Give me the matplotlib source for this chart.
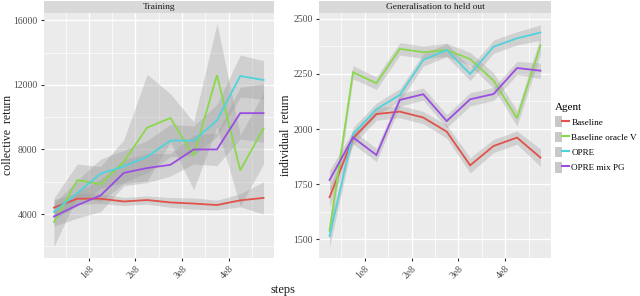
import matplotlib
matplotlib.use("Agg")
import matplotlib.pyplot as plt
from matplotlib.lines import Line2D
from matplotlib.patches import Patch
from matplotlib.legend_handler import HandlerTuple
import numpy as np

plt.rcParams['font.family'] = ['Liberation Serif', 'DejaVu Serif']

# ---------------- data ----------------
steps = [0.25e8, 0.75e8, 1.25e8, 1.75e8, 2.25e8, 2.75e8, 3.25e8, 3.75e8, 4.25e8, 4.75e8]
agents = ["Baseline", "Baseline oracle V", "OPRE", "OPRE mix PG"]

# Training: collective return (mean, half-width of ribbon)
train_baseline = [4400, 4950, 4950, 4780, 4870, 4720, 4650, 4560, 4850, 5000]
train_baseline_err = [500, 350, 300, 250, 250, 300, 350, 300, 400, 1000]
train_oracle = [3500, 6100, 5850, 7250, 9350, 9950, 7600, 12600, 6700, 9300]
train_oracle_err = [1500, 1000, 1100, 1350, 3300, 1500, 2100, 3200, 2200, 2200]
train_opre = [4150, 5300, 6500, 6950, 7550, 8550, 8550, 9800, 12550, 12300]
train_opre_err = [500, 800, 900, 1000, 1000, 1000, 900, 1000, 1300, 1200]
train_mix = [3850, 4550, 5150, 6550, 6850, 7050, 8000, 8000, 10250, 10250]
train_mix_err = [600, 800, 1000, 800, 900, 700, 900, 1000, 1600, 1800]

# Generalisation: individual return
gen_baseline = [1690, 1958, 2068, 2079, 2052, 1988, 1835, 1923, 1961, 1870]
gen_baseline_err = [45, 30, 28, 28, 28, 30, 35, 30, 30, 40]
gen_oracle = [1538, 2258, 2208, 2364, 2349, 2359, 2318, 2220, 2049, 2379]
gen_oracle_err = [45, 30, 28, 28, 28, 30, 30, 35, 35, 40]
gen_opre = [1514, 1977, 2090, 2155, 2314, 2359, 2250, 2374, 2412, 2438]
gen_opre_err = [50, 30, 28, 28, 28, 30, 30, 30, 30, 35]
gen_mix = [1768, 1962, 1882, 2132, 2158, 2036, 2135, 2159, 2277, 2265]
gen_mix_err = [45, 30, 30, 28, 28, 30, 30, 30, 30, 35]

colors = ["#E0524A", "#8AD84C", "#4FD3DC", "#9A4DE0"]

# ---------------- figure ----------------
W, H = 640, 296
fig = plt.figure(figsize=(W / 100, H / 100), dpi=100)
fig.patch.set_facecolor("white")


def px_axes(x0, y0, x1, y1):
    return fig.add_axes([x0 / W, 1 - y1 / H, (x1 - x0) / W, (y1 - y0) / H])


def style_panel(ax, yticks, yminor, ylim, title, strip_box):
    ax.set_facecolor("#EBEBEB")
    for s in ax.spines.values():
        s.set_visible(False)
    ax.set_xlim(0.025e8, 4.975e8)
    ax.set_ylim(*ylim)
    ax.set_xticks([1e8, 2e8, 3e8, 4e8])
    ax.set_xticklabels(["1e8", "2e8", "3e8", "4e8"], rotation=45, ha="right",
                       va="top", rotation_mode="anchor")
    ax.set_xticks([0.5e8, 1.5e8, 2.5e8, 3.5e8, 4.5e8], minor=True)
    ax.set_yticks(yticks)
    ax.set_yticklabels([str(t) for t in yticks])
    ax.set_yticks(yminor, minor=True)
    ax.grid(which="major", color="white", lw=1.0)
    ax.grid(which="minor", color="white", lw=0.5)
    ax.set_axisbelow(True)
    ax.tick_params(which="major", length=2.5, width=0.8, color="#333333",
                   labelsize=7, labelcolor="#4D4D4D", pad=2)
    ax.tick_params(which="minor", length=0)
    sax = px_axes(*strip_box)
    sax.set_facecolor("#D9D9D9")
    for s in sax.spines.values():
        s.set_visible(False)
    sax.set_xticks([])
    sax.set_yticks([])
    sax.text(0.5, 0.5, title, ha="center", va="center", fontsize=6.8,
             color="#1A1A1A", transform=sax.transAxes)


ax1 = px_axes(43.5, 13, 274, 258)
ax2 = px_axes(319, 13, 551, 258)

style_panel(ax1, [4000, 8000, 12000, 16000], [2000, 6000, 10000, 14000],
            (1280, 16450), "Training", (43.5, 0.5, 274, 13))
style_panel(ax2, [1500, 1750, 2000, 2250, 2500], [1625, 1875, 2125, 2375],
            (1414, 2527), "Generalisation to held out", (319, 0.5, 551, 13))

train = [(train_baseline, train_baseline_err), (train_oracle, train_oracle_err),
         (train_opre, train_opre_err), (train_mix, train_mix_err)]
gen = [(gen_baseline, gen_baseline_err), (gen_oracle, gen_oracle_err),
       (gen_opre, gen_opre_err), (gen_mix, gen_mix_err)]

for ax, series in ((ax1, train), (ax2, gen)):
    for (m, e), c in zip(series, colors):
        m = np.array(m, float)
        e = np.array(e, float)
        ax.fill_between(steps, m - e, m + e, color="#999999", alpha=0.33, lw=0, zorder=2)
    for (m, e), c in zip(series, colors):
        ax.plot(steps, m, color=c, lw=1.3, zorder=3, solid_joinstyle="miter")

fig.text(8 / W, 1 - 135 / H, "collective  return", rotation=90, ha="center",
         va="center", fontsize=8.5, color="#1A1A1A")
fig.text(286 / W, 1 - 135 / H, "individual  return", rotation=90, ha="center",
         va="center", fontsize=8.5, color="#1A1A1A")
fig.text(283 / W, 1 - 290 / H, "steps", ha="center", va="center", fontsize=9,
         color="#1A1A1A")

handles = []
for c in colors:
    handles.append((Patch(facecolor="#C8C8C8", edgecolor="none"),
                    Line2D([], [], color=c, lw=1.5)))
leg = fig.legend(handles, agents, title="Agent", loc="upper left",
                 bbox_to_anchor=(553 / W, 1 - 101 / H), frameon=False,
                 fontsize=6.6, title_fontsize=8, handler_map={tuple: HandlerTuple(ndivide=None, pad=0)},
                 handlelength=1.5, handleheight=1.4, handletextpad=0.3,
                 labelspacing=0.5, borderaxespad=0, borderpad=0.2)
leg._legend_box.align = "left"

fig.savefig("out.png", dpi=100)
